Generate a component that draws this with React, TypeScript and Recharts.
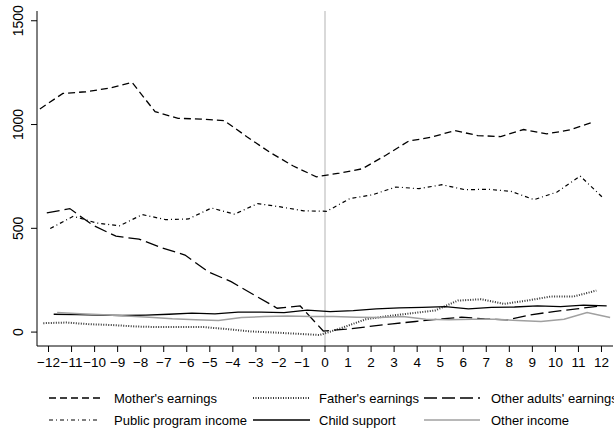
import React from "react";
import { LineChart, Line, XAxis, YAxis, ReferenceLine } from "recharts";

const periods = [-12, -11, -10, -9, -8, -7, -6, -5, -4, -3, -2, -1, 0, 1, 2, 3, 4, 5, 6, 7, 8, 9, 10, 11, 12];
const yTicks = [0, 500, 1000, 1500];

const mothersEarnings = [1075, 1150, 1158, 1175, 1203, 1062, 1030, 1026, 1019, 940, 865, 800, 748, 766, 787, 851, 920, 939, 971, 947, 942, 976, 955, 974, 1011];
const fathersEarnings = [43, 46, 38, 34, 27, 24, 24, 24, 14, 3, -2, -8, -14, 22, 62, 78, 91, 104, 152, 158, 136, 152, 171, 171, 200];
const otherAdultsEarnings = [574, 595, 515, 462, 448, 406, 371, 291, 243, 179, 115, 126, 5, 14, 27, 40, 51, 62, 72, 64, 59, 83, 99, 112, 126];
const publicProgramIncome = [499, 558, 526, 512, 566, 542, 545, 598, 568, 619, 603, 584, 582, 643, 662, 699, 691, 710, 686, 688, 678, 638, 675, 752, 646];
const childSupport = [86, 84, 82, 80, 82, 86, 91, 88, 96, 96, 94, 106, 99, 103, 112, 117, 119, 123, 112, 119, 121, 126, 123, 130, 126];
const otherIncome = [94, 88, 83, 78, 72, 64, 59, 56, 70, 75, 78, 75, 75, 72, 70, 75, 62, 59, 62, 62, 56, 51, 62, 94, 70];

const seriesNames = [
  "Mother's earnings",
  "Father's earnings",
  "Other adults' earnings",
  "Public program income",
  "Child support",
  "Other income",
];

const FONT = "'Liberation Sans', Arial, Helvetica, sans-serif";

type Style = { stroke: string; width: number; dash?: string };
const styles: Style[] = [
  { stroke: "#000", width: 1.3, dash: "7 4" },
  { stroke: "#333", width: 2, dash: "1 1.5" },
  { stroke: "#000", width: 1.3, dash: "13 5" },
  { stroke: "#000", width: 1.2, dash: "4 3 1 3" },
  { stroke: "#000", width: 1.3 },
  { stroke: "#a0a0a0", width: 1.5 },
];
const offsets = [-0.375, -0.225, -0.075, 0.075, 0.225, 0.375];
const allSeries = [mothersEarnings, fathersEarnings, otherAdultsEarnings, publicProgramIncome, childSupport, otherIncome];

const seriesData = allSeries.map((vals, s) =>
  vals.map((v, i) => ({ x: periods[i] + offsets[s], y: v }))
);

const fmtX = (v: number) => String(v).replace("-", "\u2212");

const YTick = (props: any) => {
  const { y, payload } = props;
  const bx = 23;
  return (
    <text
      x={bx}
      y={y}
      transform={`rotate(-90, ${bx}, ${y})`}
      textAnchor="middle"
      fontSize={14}
      fontFamily={FONT}
      fill="#000"
    >
      {payload.value}
    </text>
  );
};

const legendCols = [
  { lx1: 49, lx2: 100, tx: 114 },
  { lx1: 253, lx2: 310, tx: 319 },
  { lx1: 424, lx2: 480, tx: 491 },
];
const legendRows = [398, 420];

export default function App() {
  return (
    <div style={{ position: "absolute", left: 0, top: 0, width: 614, height: 431, background: "#fff" }}>
      <LineChart width={614} height={431} margin={{ top: 11, right: 1, left: 0, bottom: 0 }}>
        <XAxis
          xAxisId={0}
          type="number"
          dataKey="x"
          domain={[-12.5, 12.5]}
          ticks={periods}
          interval={0}
          allowDataOverflow
          tickFormatter={fmtX}
          height={85}
          axisLine={{ stroke: "#000" }}
          tickLine={{ stroke: "#000" }}
          tickSize={6}
          tickMargin={5}
          tick={{ fill: "#000", fontSize: 13.5, fontFamily: FONT }}
        />
        <XAxis
          xAxisId="top"
          orientation="top"
          type="number"
          domain={[-12.5, 12.5]}
          height={0}
          tick={false}
          tickLine={false}
          axisLine={{ stroke: "#000" }}
        />
        <YAxis
          yAxisId={0}
          type="number"
          domain={[-67, 1547]}
          ticks={yTicks}
          interval={0}
          allowDataOverflow
          width={37}
          axisLine={{ stroke: "#000" }}
          tickLine={{ stroke: "#000" }}
          tickSize={6}
          tick={<YTick />}
        />
        <YAxis
          yAxisId="right"
          orientation="right"
          type="number"
          domain={[-67, 1547]}
          width={0}
          tick={false}
          tickLine={false}
          axisLine={{ stroke: "#000" }}
        />
        <ReferenceLine x={0} stroke="#cccccc" strokeWidth={1.5} ifOverflow="hidden" />
        {seriesData.map((d, s) => (
          <Line
            key={seriesNames[s]}
            data={d}
            dataKey="y"
            name={seriesNames[s]}
            type="linear"
            stroke={styles[s].stroke}
            strokeWidth={styles[s].width}
            strokeDasharray={styles[s].dash}
            dot={false}
            activeDot={false}
            isAnimationActive={false}
          />
        ))}
      </LineChart>
      <svg
        width={614}
        height={431}
        style={{ position: "absolute", left: 0, top: 0, pointerEvents: "none" }}
      >
        {seriesNames.map((name, s) => {
          const col = legendCols[s % 3];
          const ry = legendRows[Math.floor(s / 3)];
          const st = styles[s];
          return (
            <g key={name}>
              <line
                x1={col.lx1}
                x2={col.lx2}
                y1={ry}
                y2={ry}
                stroke={st.stroke}
                strokeWidth={st.width}
                strokeDasharray={st.dash}
              />
              <text x={col.tx} y={ry + 4.5} fontSize={13} fontFamily={FONT} fill="#000">
                {name}
              </text>
            </g>
          );
        })}
      </svg>
    </div>
  );
}
